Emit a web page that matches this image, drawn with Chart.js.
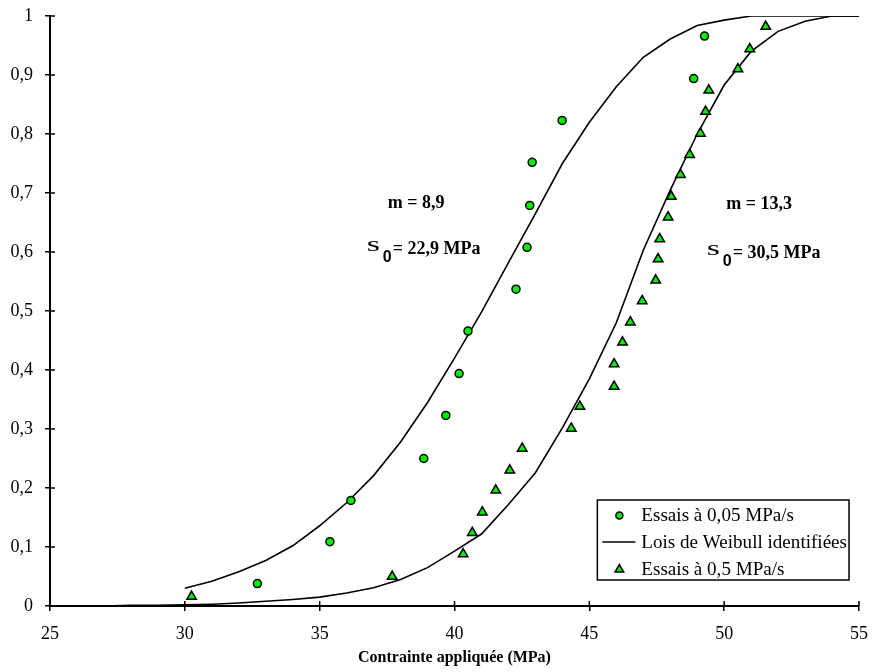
<!DOCTYPE html>
<html>
<head>
<meta charset="utf-8">
<script src="https://cdn.jsdelivr.net/npm/chart.js@4/dist/chart.umd.min.js"></script>
<style>
  html, body { margin: 0; padding: 0; background: #ffffff; overflow: hidden; }
  #wrap { width: 873px; height: 672px; }
  canvas { display: block; }
</style>
</head>
<body>
<div id="wrap"><canvas id="c" width="873" height="672"></canvas></div>
<script>
// Test points, loading rate 0.05 MPa/s: stress (MPa) and rupture probability
const stressSlow = [32.69, 35.38, 36.16, 38.86, 39.68, 40.17, 40.50, 42.28, 42.69, 42.79, 42.88, 43.99, 48.87, 49.27];
const probSlow   = [0.038, 0.109, 0.179, 0.250, 0.323, 0.394, 0.466, 0.537, 0.608, 0.679, 0.752, 0.823, 0.894, 0.966];

// Test points, loading rate 0.5 MPa/s
const stressFast = [30.25, 37.69, 40.32, 40.66, 41.03, 41.53, 42.05, 42.51, 44.33, 44.65, 45.92, 45.92, 46.23, 46.52,
                    46.96, 47.46, 47.55, 47.61, 47.92, 48.04, 48.38, 48.72, 49.12, 49.31, 49.43, 50.51, 50.95, 51.54];
const probFast   = [0.016, 0.050, 0.088, 0.124, 0.159, 0.196, 0.230, 0.267, 0.301, 0.338, 0.372, 0.410, 0.447, 0.481,
                    0.517, 0.552, 0.588, 0.622, 0.659, 0.694, 0.731, 0.765, 0.801, 0.838, 0.874, 0.910, 0.944, 0.982];

// Identified Weibull laws, sampled every 1 MPa
const weibullStressSlow = [30, 31, 32, 33, 34, 35, 36, 37, 38, 39, 40, 41, 42, 43, 44, 45, 46, 47, 48, 49, 50, 51, 52, 53, 54, 55];
const weibullProbSlow   = [0.030, 0.042, 0.058, 0.077, 0.102, 0.136, 0.175, 0.221, 0.278, 0.345, 0.420, 0.498, 0.582, 0.665,
                           0.750, 0.820, 0.880, 0.930, 0.961, 0.984, 0.993, 1, 1, 1, 1, 1];
const weibullStressFast = [26, 27, 28, 29, 30, 31, 32, 33, 34, 35, 36, 37, 38, 39, 40, 41, 42, 43, 44, 45, 46, 47, 48, 49, 50, 51, 52, 53, 54, 55];
const weibullProbFast   = [0, 0, 0.001, 0.001, 0.002, 0.003, 0.005, 0.008, 0.011, 0.015, 0.022, 0.031, 0.045, 0.065, 0.093,
                           0.122, 0.172, 0.226, 0.302, 0.385, 0.480, 0.603, 0.705, 0.800, 0.883, 0.940, 0.974, 0.991, 1, 1];

// Axis tick labels (French decimal comma)
const xTickLabels = ['25', '30', '35', '40', '45', '50', '55'];
const yTickLabels = ['0', '0,1', '0,2', '0,3', '0,4', '0,5', '0,6', '0,7', '0,8', '0,9', '1'];

const seriesLabels = ['Essais à 0,05 MPa/s', 'Lois de Weibull identifiées', 'Essais à 0,5 MPa/s'];
const xTitle = 'Contrainte appliquée (MPa)';

// Identified Weibull parameters written next to each law
const shapeLabels = ['m = 8,9', 'm = 13,3'];
const scaleLabels = ['= 22,9 MPa', '= 30,5 MPa'];

const SERIF = "'Liberation Serif', 'Times New Roman', serif";
const SANS = "'Liberation Sans', Arial, sans-serif";
const GREEN = '#00ee00';

// Plot rectangle: y axis band 50 px wide, x axis band 66 px tall, 16 px above, 14 px right
const AXIS_W = 50;
const AXIS_H = 66;

const pts = (xs, ys) => xs.map((x, i) => ({ x: x, y: ys[i] }));

// Ticks crossing the axis lines: the library draws the outer half, this draws the inner half
const innerTicks = {
  id: 'innerTicks',
  afterDraw(chart) {
    const { ctx, chartArea, scales } = chart;
    ctx.save();
    ctx.strokeStyle = '#000';
    ctx.lineWidth = 1.5;
    ctx.beginPath();
    scales.x.ticks.forEach(t => {
      const px = scales.x.getPixelForValue(t.value);
      ctx.moveTo(px, chartArea.bottom);
      ctx.lineTo(px, chartArea.bottom - 5);
    });
    scales.y.ticks.forEach(t => {
      const py = scales.y.getPixelForValue(t.value);
      ctx.moveTo(chartArea.left, py);
      ctx.lineTo(chartArea.left + 5, py);
    });
    ctx.stroke();
    ctx.restore();
  }
};

// Parameter annotations placed in data units
const paramNotes = {
  id: 'paramNotes',
  afterDatasetsDraw(chart, args, opts) {
    const { ctx, scales } = chart;
    ctx.save();
    ctx.fillStyle = '#000';
    opts.items.forEach((it, i) => {
      const mx = scales.x.getPixelForValue(it.mAt[0]);
      const my = scales.y.getPixelForValue(it.mAt[1]);
      ctx.font = 'bold 18px ' + SERIF;
      ctx.textAlign = 'center';
      ctx.textBaseline = 'middle';
      ctx.fillText(shapeLabels[i], mx, my);

      let sx = scales.x.getPixelForValue(it.sAt[0]);
      const sy = scales.y.getPixelForValue(it.sAt[1]);
      ctx.textAlign = 'left';
      // stretched sigma glyph
      ctx.save();
      ctx.translate(sx, sy);
      ctx.scale(1.7, 1);
      ctx.font = '20px ' + SERIF;
      ctx.textBaseline = 'alphabetic';
      ctx.fillText('s', 0, 3);
      ctx.restore();
      sx += 16;
      ctx.font = 'bold 16px ' + SANS;
      ctx.textBaseline = 'middle';
      ctx.fillText('0', sx, sy + 10);
      sx += 10;
      ctx.font = 'bold 18px ' + SERIF;
      ctx.fillText(scaleLabels[i], sx, sy + 1);
    });
    ctx.restore();
  }
};

// Framed legend in the lower right corner of the plot
const boxLegend = {
  id: 'boxLegend',
  afterDraw(chart) {
    const { ctx, chartArea } = chart;
    const stretch = 1.06;
    ctx.save();
    ctx.font = '18px ' + SERIF;
    const tw = Math.max(...seriesLabels.map(s => ctx.measureText(s).width)) * stretch;
    const right = chartArea.right - 10;
    const bottom = chartArea.bottom - 26;
    const top = bottom - 80;
    const left = right - tw - 46;
    ctx.fillStyle = '#fff';
    ctx.fillRect(left, top, right - left, bottom - top);
    ctx.strokeStyle = '#000';
    ctx.lineWidth = 1.5;
    ctx.strokeRect(left, top, right - left, bottom - top);

    const rows = [top + 15.5, top + 42, top + 69.5];
    const mx = left + 22;
    const tx = left + 44;
    ctx.fillStyle = '#000';
    ctx.textAlign = 'left';
    ctx.textBaseline = 'middle';
    seriesLabels.forEach((s, i) => {
      ctx.save();
      ctx.translate(tx, rows[i] + 1);
      ctx.scale(stretch, 1);
      ctx.fillText(s, 0, 0);
      ctx.restore();
    });

    ctx.lineWidth = 1.5;
    ctx.strokeStyle = '#000';
    ctx.fillStyle = GREEN;
    Chart.helpers.drawPoint(ctx, { pointStyle: 'circle', radius: 3.5, borderWidth: 1.5, rotation: 0 }, mx, rows[0]);
    Chart.helpers.drawPoint(ctx, { pointStyle: 'triangle', radius: 5, borderWidth: 1.5, rotation: 0 }, mx, rows[2]);
    ctx.beginPath();
    ctx.moveTo(left + 5, rows[1]);
    ctx.lineTo(left + 38, rows[1]);
    ctx.stroke();
    ctx.restore();
  }
};

const lineStyle = {
  showLine: true, borderColor: '#000', borderWidth: 1.6, pointRadius: 0, tension: 0, fill: false, order: 2
};

new Chart(document.getElementById('c'), {
  type: 'scatter',
  data: {
    datasets: [
      Object.assign({ label: seriesLabels[1], data: pts(weibullStressSlow, weibullProbSlow) }, lineStyle),
      Object.assign({ label: seriesLabels[1], data: pts(weibullStressFast, weibullProbFast) }, lineStyle),
      {
        label: seriesLabels[0], data: pts(stressSlow, probSlow),
        pointStyle: 'circle', pointRadius: 4, pointBorderWidth: 1.5,
        pointBackgroundColor: GREEN, pointBorderColor: '#000', showLine: false, order: 1
      },
      {
        label: seriesLabels[2], data: pts(stressFast, probFast),
        pointStyle: 'triangle', pointRadius: 5.5, pointBorderWidth: 1.5,
        pointBackgroundColor: GREEN, pointBorderColor: '#000', showLine: false, order: 0
      }
    ]
  },
  options: {
    responsive: false,
    animation: false,
    devicePixelRatio: 1,
    layout: { padding: { top: 16, right: 14, left: 0, bottom: 0 } },
    plugins: {
      legend: { display: false },
      tooltip: { enabled: false },
      paramNotes: {
        items: [
          { mAt: [38.58, 0.682], sAt: [36.75, 0.607] },
          { mAt: [51.30, 0.680], sAt: [49.35, 0.600] }
        ]
      }
    },
    scales: {
      x: {
        type: 'linear', min: 25, max: 55,
        afterFit(s) { s.height = AXIS_H; s.paddingLeft = 0; s.paddingRight = 0; },
        border: { display: true, color: '#000', width: 2 },
        grid: { display: true, drawOnChartArea: false, drawTicks: true, tickLength: 5, color: '#000', lineWidth: 1.5 },
        ticks: {
          stepSize: 5, padding: 12, color: '#000', maxRotation: 0,
          font: { family: SERIF, size: 18 },
          callback: (v, i) => xTickLabels[i]
        },
        title: {
          display: true, text: xTitle, color: '#000',
          font: { family: SERIF, size: 16, weight: 'bold' },
          padding: { top: 4, bottom: 5 }
        }
      },
      y: {
        type: 'linear', min: 0, max: 1,
        afterFit(s) { s.width = AXIS_W; s.paddingTop = 0; s.paddingBottom = 0; },
        border: { display: true, color: '#000', width: 2 },
        grid: { display: true, drawOnChartArea: false, drawTicks: true, tickLength: 5, color: '#000', lineWidth: 1.5 },
        ticks: {
          stepSize: 0.1, padding: 12, color: '#000',
          font: { family: SERIF, size: 18 },
          callback: (v, i) => yTickLabels[i]
        }
      }
    }
  },
  plugins: [innerTicks, paramNotes, boxLegend]
});
</script>
</body>
</html>
